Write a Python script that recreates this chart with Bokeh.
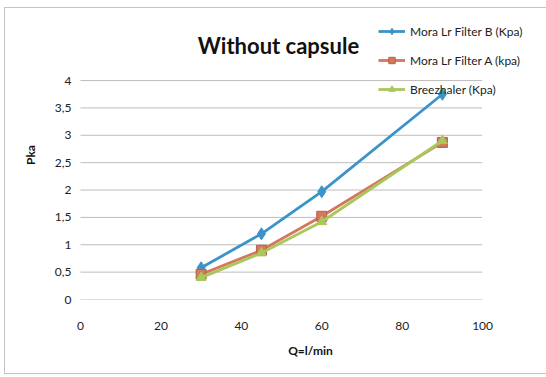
from bokeh.plotting import figure
from bokeh.models import Legend, LegendItem, FixedTicker, CustomJSTickFormatter, Label
from bokeh.embed import file_html
from bokeh.resources import INLINE

# ---- data ----
q = [30, 45, 60, 90]
filter_b = [0.58, 1.20, 1.97, 3.75]
filter_a = [0.46, 0.90, 1.52, 2.87]
breezhaler = [0.40, 0.85, 1.42, 2.90]
series_names = ["Mora Lr Filter B (Kpa)", "Mora Lr Filter A (kpa)", "Breezhaler (Kpa)"]
title_text = "Without capsule"
x_title = "Q=l/min"
y_title = "Pka"
x_ticks = [0, 20, 40, 60, 80, 100]
y_ticks = [0, 0.5, 1, 1.5, 2, 2.5, 3, 3.5, 4]

FONT = "Lato"
blue = "#3A93C9"
orange = "#D4775C"
green = "#A8C85A"

# frame spans x 80..540 and y 10..299 of the canvas; the ranges keep the
# axis scale of the original (0..100 over 80..482, 0..4 over 299..80)
p = figure(width=546, height=377, output_backend="svg", toolbar_location=None,
           x_range=(0, 114.4), y_range=(0, 5.28),
           min_border_left=80, min_border_right=6, min_border_top=10, min_border_bottom=78)
p.outline_line_color = None
p.background_fill_alpha = 0
p.border_fill_alpha = 0
p.styles = {
    "background": (
        "linear-gradient(#c4c4c4,#c4c4c4) 4px 7px / 1px 367px no-repeat, "
        "linear-gradient(#c4c4c4,#c4c4c4) 4px 7px / 542px 1px no-repeat, "
        "linear-gradient(#c4c4c4,#c4c4c4) 4px 373px / 542px 1px no-repeat, white"
    )
}

# grid (drawn only across the x tick span, like the original)
p.xgrid.grid_line_color = None
p.ygrid.grid_line_color = None
p.segment(x0=[x_ticks[0]] * len(y_ticks), x1=[x_ticks[-1]] * len(y_ticks),
          y0=y_ticks, y1=y_ticks, line_color="#7a7a7a", line_width=1, line_dash="1 1")

# axes
p.xaxis.ticker = FixedTicker(ticks=x_ticks)
p.yaxis.ticker = FixedTicker(ticks=y_ticks)
p.yaxis.formatter = CustomJSTickFormatter(code="return String(tick).replace('.', ',');")
for ax in (p.xaxis[0], p.yaxis[0]):
    ax.axis_line_color = None
    ax.major_tick_line_color = None
    ax.minor_tick_line_color = None
    ax.major_label_text_font = FONT
    ax.major_label_text_font_size = "12px"
    ax.major_label_text_color = "#222222"
    ax.axis_label_text_font = FONT
    ax.axis_label_text_font_style = "bold"
    ax.axis_label_text_font_size = "12px"
    ax.axis_label_text_color = "#111111"
p.xaxis.axis_label = x_title
p.yaxis.axis_label = y_title
p.xaxis.major_label_standoff = 16
p.xaxis.axis_label_standoff = 10
p.yaxis.major_label_standoff = 3
p.yaxis.axis_label_standoff = 14

# title
title = Label(x=198, y=254, x_units="screen", y_units="screen", text=title_text,
              text_font=FONT, text_font_style="bold", text_font_size="22px",
              text_color="#111111", text_align="center", text_baseline="middle")
p.add_layout(title)

# series
r1l = p.line(q, filter_b, line_color=blue, line_width=2.8)
r1m = p.scatter(q, filter_b, marker="diamond", size=12, fill_color=blue, line_color=blue)
r2l = p.line(q, filter_a, line_color=orange, line_width=2.8)
r2m = p.scatter(q, filter_a, marker="square", size=10, fill_color=orange, line_color="#B5604A")
r3l = p.line(q, breezhaler, line_color=green, line_width=2.8)
r3m = p.scatter(q, breezhaler, marker="triangle", size=10, fill_color=green, line_color=green)

legend = Legend(items=[
    LegendItem(label=series_names[0], renderers=[r1l, r1m]),
    LegendItem(label=series_names[1], renderers=[r2l, r2m]),
    LegendItem(label=series_names[2], renderers=[r3l, r3m]),
], location=(298, 202))
legend.label_text_font = FONT
legend.label_text_font_size = "12px"
legend.label_text_color = "#222222"
legend.glyph_width = 27
legend.glyph_height = 16
legend.label_height = 16
legend.label_standoff = 5
legend.spacing = 13
legend.padding = 0
legend.margin = 0
legend.border_line_color = None
legend.background_fill_alpha = 0
p.add_layout(legend, "center")

open("out.html", "w").write(file_html(p, INLINE))
